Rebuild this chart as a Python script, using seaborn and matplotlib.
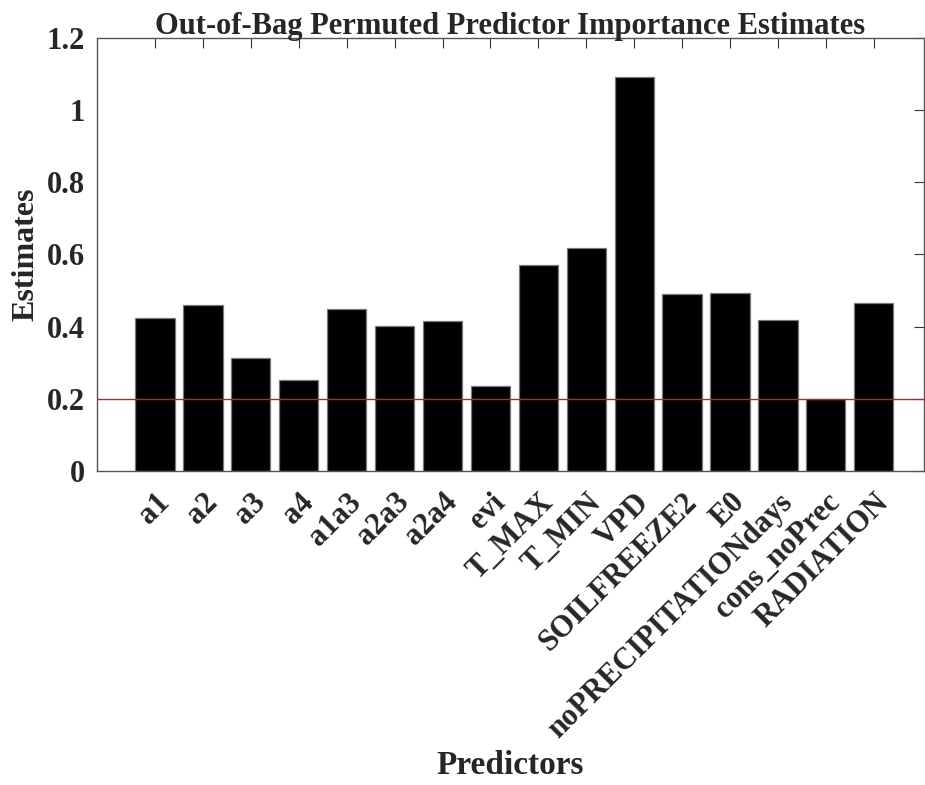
import matplotlib
matplotlib.use("Agg")
import matplotlib.pyplot as plt
import matplotlib.transforms as mtransforms
import seaborn as sns
import pandas as pd
import numpy as np

predictors = ["a1", "a2", "a3", "a4", "a1a3", "a2a3", "a2a4", "evi", "T_MAX", "T_MIN",
              "VPD", "SOILFREEZE2", "E0", "noPRECIPITATIONdays", "cons_noPrec", "RADIATION"]
estimates = [0.424, 0.459, 0.314, 0.251, 0.448, 0.403, 0.415, 0.236, 0.570, 0.619,
             1.093, 0.491, 0.493, 0.419, 0.199, 0.466]
yticks = [0, 0.2, 0.4, 0.6, 0.8, 1, 1.2]
ytick_labels = ["0", "0.2", "0.4", "0.6", "0.8", "1", "1.2"]
threshold = 0.2

sns.set_style("white")
plt.rcParams['font.family'] = ['Liberation Serif', 'DejaVu Serif']
plt.rcParams['font.weight'] = 'bold'

df = pd.DataFrame({"Predictor": predictors, "Estimate": estimates})

fig = plt.figure(figsize=(9.25, 7.85), dpi=100)
ax = fig.add_axes([0.1049, 0.4, 0.8941, 0.5516])

sns.barplot(data=df, x="Predictor", y="Estimate", color="black", width=0.82,
            edgecolor="#7a7a7a", linewidth=0.9, saturation=1, ax=ax)

ax.axhline(threshold, color="#e8140c", linewidth=1.0, zorder=5)

ax.set_xlim(-1.21, 16.05)
ax.set_ylim(0, 1.2)
ax.set_yticks(yticks)
ax.set_yticklabels(ytick_labels, fontsize=22, fontweight='bold')
ax.set_xticks(range(len(predictors)))
ax.set_xticklabels(predictors, rotation=45, ha='right', va='top',
                   rotation_mode='anchor', fontsize=22, fontweight='bold')
offset = mtransforms.ScaledTranslation(0.23, 0.02, fig.dpi_scale_trans)
for lab in ax.get_xticklabels():
    lab.set_transform(lab.get_transform() + offset)

ax.tick_params(axis='both', direction='in', length=7, width=0.8, color='#333333',
               top=True, right=True, labeltop=False, labelright=False)
ax.tick_params(axis='x', pad=12)
ax.tick_params(axis='y', pad=9)
for sp in ax.spines.values():
    sp.set_visible(True)
    sp.set_color('#555555')
    sp.set_linewidth(1.0)

ax.set_xlabel("Predictors", fontsize=24, fontweight='bold')
ax.set_ylabel("Estimates", fontsize=23, fontweight='bold', labelpad=4)
ax.set_title("Out-of-Bag Permuted Predictor Importance Estimates", fontsize=22,
             fontweight='bold', pad=3)
ax.xaxis.set_label_coords(0.5, -0.645)

fig.savefig("out.png", dpi=100)
